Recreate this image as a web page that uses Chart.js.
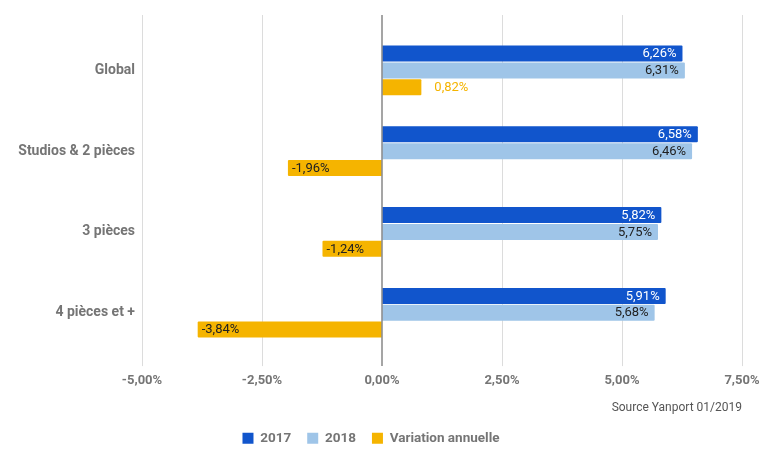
<!DOCTYPE html>
<html><head><meta charset="utf-8">
<script src="https://cdn.jsdelivr.net/npm/chart.js@4"></script>
<style>html,body{margin:0;padding:0;background:#fff}#wrap{width:764px;height:462px}</style>
</head><body><div id="wrap"><canvas id="c" width="764" height="462"></canvas></div>
<script>
const categories = ['Global', 'Studios & 2 pièces', '3 pièces', '4 pièces et +'];
const seriesNames = ['2017', '2018', 'Variation annuelle'];
const values2017 = [6.26, 6.58, 5.82, 5.91];
const values2018 = [6.31, 6.46, 5.75, 5.68];
const variation = [0.82, -1.96, -1.24, -3.84];
const xTicks = [-5, -2.5, 0, 2.5, 5, 7.5];
const sourceText = 'Source Yanport 01/2019';

const colors = ['#1155cc', '#9fc5e8', '#f5b400'];
const fmt = v => v.toFixed(2).replace('.', ',') + '%';

const gridPlugin = {
  id: 'extGrid',
  beforeDatasetsDraw(chart) {
    const x = chart.scales.x, ca = chart.chartArea, ctx = chart.ctx;
    ctx.save();
    x.ticks.forEach(t => {
      if (t.value === 0) return;
      const px = Math.round(x.getPixelForValue(t.value)) + 0.5;
      ctx.strokeStyle = '#dcdcdc'; ctx.lineWidth = 1;
      ctx.beginPath(); ctx.moveTo(px, ca.top - 15); ctx.lineTo(px, ca.bottom + 13); ctx.stroke();
    });
    ctx.restore();
  },
  afterDatasetsDraw(chart) {
    const x = chart.scales.x, ca = chart.chartArea, ctx = chart.ctx;
    ctx.save();
    const px = x.getPixelForValue(0);
    ctx.strokeStyle = '#8f8f8f'; ctx.lineWidth = 1.6;
    ctx.beginPath(); ctx.moveTo(px, ca.top - 15); ctx.lineTo(px, ca.bottom + 13); ctx.stroke();
    ctx.restore();
  }
};

const labelPlugin = {
  id: 'barLabels',
  afterDatasetsDraw(chart) {
    const ctx = chart.ctx;
    ctx.save();
    ctx.font = '13px Roboto';
    ctx.textBaseline = 'middle';
    chart.data.datasets.forEach((ds, di) => {
      const meta = chart.getDatasetMeta(di);
      meta.data.forEach((el, i) => {
        const v = ds.data[i];
        const txt = fmt(v);
        if (v >= 0) {
          if (di === 2) {
            ctx.fillStyle = ds.backgroundColor; ctx.textAlign = 'left';
            ctx.fillText(txt, el.x + 13, el.y + 0.5);
          } else {
            ctx.fillStyle = di === 0 ? '#ffffff' : '#212121'; ctx.textAlign = 'right';
            ctx.fillText(txt, el.x - 6, el.y + 0.5);
          }
        } else {
          ctx.fillStyle = '#212121'; ctx.textAlign = 'left';
          ctx.fillText(txt, el.x + 4, el.y + 0.5);
        }
      });
    });
    ctx.restore();
  }
};

const seriesData = [values2017, values2018, variation];

new Chart(document.getElementById('c'), {
  type: 'bar',
  data: {
    labels: categories,
    datasets: seriesNames.map((n, i) => ({
      label: n,
      data: seriesData[i],
      backgroundColor: colors[i],
      borderWidth: 0,
      borderRadius: 1,
      barPercentage: 0.95,
      categoryPercentage: 0.625
    }))
  },
  options: {
    indexAxis: 'y',
    responsive: false,
    animation: false,
    layout: { padding: { top: 30, bottom: 7, left: 0, right: 22 } },
    scales: {
      x: {
        type: 'linear', min: -5, max: 7.5,
        grid: { display: false, drawTicks: false },
        border: { display: false },
        afterBuildTicks: s => { s.ticks = xTicks.map(v => ({ value: v })); },
        afterFit: s => { s.height = 36; s.paddingRight = 0; s.paddingLeft = 0; },
        ticks: {
          padding: 20, color: '#757575',
          font: { family: 'Roboto', size: 13, weight: 'bold' },
          callback: v => fmt(v)
        }
      },
      y: {
        type: 'category',
        grid: { display: false, drawTicks: false },
        border: { display: false },
        afterFit: s => { s.width = 142; },
        ticks: { padding: 7, color: '#757575', font: { family: 'Roboto', size: 14, weight: 'bold' } }
      }
    },
    plugins: {
      tooltip: { enabled: false },
      title: {
        display: true, text: sourceText, position: 'bottom', align: 'end',
        fullSize: false, weight: 500, color: '#555555',
        font: { family: 'Roboto', size: 12, weight: 'normal' },
        padding: { top: 12, bottom: 0 }
      },
      legend: {
        position: 'bottom', fullSize: true,
        labels: {
          boxWidth: 11, boxHeight: 11, padding: 16, color: '#757575',
          font: { family: 'Roboto', size: 13.5, weight: 'bold' }
        }
      }
    }
  },
  plugins: [gridPlugin, labelPlugin]
});
</script>
</body></html>
